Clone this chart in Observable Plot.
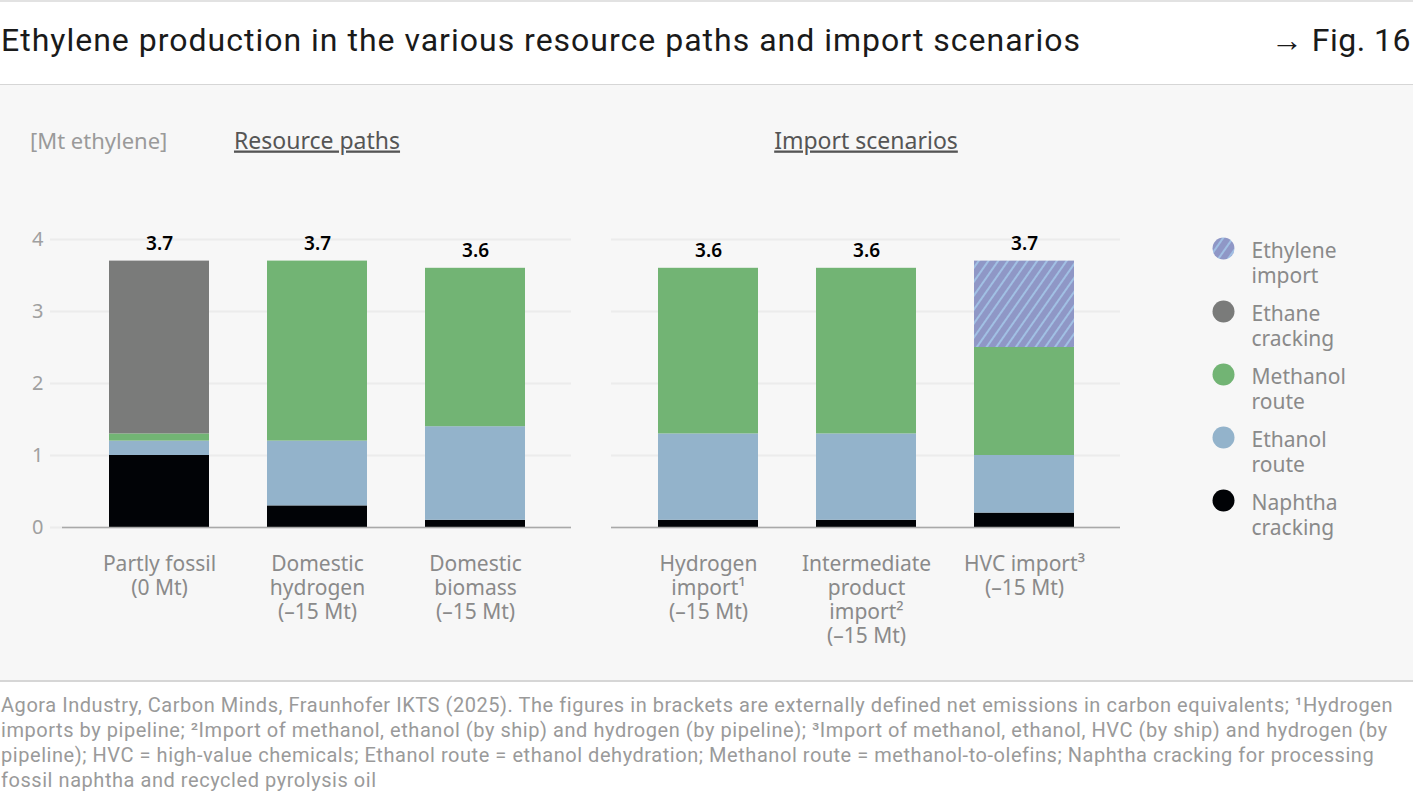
<!DOCTYPE html>
<html>
<head>
<meta charset="utf-8">
<script src="https://cdn.jsdelivr.net/npm/d3@7"></script>
<script src="https://cdn.jsdelivr.net/npm/@observablehq/plot@0.6"></script>
<style>
  html, body { margin: 0; padding: 0; background: #fff; }
  body { width: 1413px; height: 807px; overflow: hidden; font-family: "Noto Sans", sans-serif; }
  #header { position: relative; height: 82px; border-top: 2px solid #e2e2e2; border-bottom: 1px solid #d6d6d6; background: #fff; }
  #title { position: absolute; left: 1px; top: 19px; font-family: Roboto, sans-serif; font-size: 32px; letter-spacing: 1px; color: #1a1a1a; white-space: nowrap; }
  #fig { position: absolute; right: 2px; top: 19px; font-family: Roboto, sans-serif; font-size: 32px; letter-spacing: 0.5px; color: #1a1a1a; white-space: nowrap; }
  #chart { position: relative; height: 595px; background: #f7f7f7; }
  #unit { position: absolute; left: 30px; top: 40px; font-size: 22px; color: #9a9a9a; font-family: "Noto Sans", sans-serif; }
  #legend { position: absolute; left: 1200px; top: 145px; }
  #footer { border-top: 2px solid #d6d6d6; padding-top: 11px; font-family: Roboto, sans-serif; font-size: 20px; letter-spacing: 0.55px; line-height: 25px; color: #9a9a9a; white-space: nowrap; padding-left: 1px; }
</style>
</head>
<body>
<svg width="0" height="0" style="position:absolute">
  <defs>
    <pattern id="hatch" patternUnits="userSpaceOnUse" width="8" height="8" patternTransform="rotate(35)">
      <rect width="8" height="8" fill="#8f97c6"></rect>
      <line x1="4" y1="0" x2="4" y2="8" stroke="#a9d2f2" stroke-width="1.4"></line>
    </pattern>
  </defs>
</svg>
<div id="header">
  <div id="title">Ethylene production in the various resource paths and import scenarios</div>
  <div id="fig">→ Fig. 16</div>
</div>
<div id="chart">
  <div id="unit">[Mt ethylene]</div>
  <div id="plot"></div>
  <div id="legend"></div>
</div>
<div id="footer">
Agora Industry, Carbon Minds, Fraunhofer IKTS (2025). The figures in brackets are externally defined net emissions in carbon equivalents; ¹Hydrogen<br>
imports by pipeline; ²Import of methanol, ethanol (by ship) and hydrogen (by pipeline); ³Import of methanol, ethanol, HVC (by ship) and hydrogen (by<br>
pipeline); HVC = high-value chemicals; Ethanol route = ethanol dehydration; Methanol route = methanol-to-olefins; Naphtha cracking for processing<br>
fossil naphtha and recycled pyrolysis oil
</div>
<script>
// ---- data ----
const groups = ["Resource paths", "Import scenarios"];
const scenarios = ["Partly fossil", "Domestic hydrogen", "Domestic biomass", "Hydrogen import", "Intermediate product import", "HVC import"];
const scenarioGroup = ["Resource paths", "Resource paths", "Resource paths", "Import scenarios", "Import scenarios", "Import scenarios"];
const scenarioSlot = [0, 1, 2, 0, 1, 2];
const scenarioLabels = [
  "Partly fossil\n(0 Mt)",
  "Domestic\nhydrogen\n(–15 Mt)",
  "Domestic\nbiomass\n(–15 Mt)",
  "Hydrogen\nimport¹\n(–15 Mt)",
  "Intermediate\nproduct\nimport²\n(–15 Mt)",
  "HVC import³\n(–15 Mt)"
];
const types = ["Naphtha cracking", "Ethanol route", "Methanol route", "Ethane cracking", "Ethylene import"];
const naphtha        = [1.0, 0.3, 0.1, 0.1, 0.1, 0.2];
const ethanol        = [0.2, 0.9, 1.3, 1.2, 1.2, 0.8];
const methanol       = [0.1, 2.5, 2.2, 2.3, 2.3, 1.5];
const ethane         = [2.4, 0.0, 0.0, 0.0, 0.0, 0.0];
const ethyleneImport = [0.0, 0.0, 0.0, 0.0, 0.0, 1.2];
const totals = [3.7, 3.7, 3.6, 3.6, 3.6, 3.7];
const typeColors = ["#010306", "#93b3cb", "#72b474", "#7a7b7a", "url(#hatch)"];
const legendOrder = ["Ethylene import", "Ethane cracking", "Methanol route", "Ethanol route", "Naphtha cracking"];
const legendLabels = ["Ethylene\nimport", "Ethane\ncracking", "Methanol\nroute", "Ethanol\nroute", "Naphtha\ncracking"];
const yTicks = [0, 1, 2, 3, 4];

// ---- tables ----
const seriesByType = [naphtha, ethanol, methanol, ethane, ethyleneImport];
const rows = [];
scenarios.forEach((s, i) => {
  types.forEach((t, j) => {
    rows.push({scenario: s, group: scenarioGroup[i], slot: scenarioSlot[i], type: t, value: seriesByType[j][i]});
  });
});
const scenRows = scenarios.map((s, i) => ({scenario: s, group: scenarioGroup[i], slot: scenarioSlot[i], total: totals[i], label: scenarioLabels[i]}));
const gridLeft = yTicks.map(v => ({group: groups[0], v}));
const gridRight = yTicks.map(v => ({group: groups[1], v}));

const colorScale = {domain: types, range: typeColors};
const font = "Noto Sans, sans-serif";

const chart = Plot.plot({
  width: 1413,
  height: 595,
  marginTop: 154,
  marginBottom: 153,
  marginLeft: 61,
  marginRight: 292,
  style: {background: "transparent", fontFamily: font, overflow: "visible"},
  fx: {domain: groups, paddingInner: 0.0727, paddingOuter: 0, axis: null},
  x: {domain: [0, 1, 2], paddingInner: 0.37, paddingOuter: 0.29, axis: null},
  y: {domain: [0, 4], axis: null},
  color: colorScale,
  marks: [
    Plot.ruleY(gridLeft, {fx: "group", y: "v", stroke: "#ececec", strokeWidth: 2, insetLeft: -12}),
    Plot.ruleY(gridRight, {fx: "group", y: "v", stroke: "#ececec", strokeWidth: 2}),
    Plot.barY(rows, Plot.stackY({fx: "group", x: "slot", y: "value", fill: "type", z: "type", order: types})),
    Plot.ruleY([0], {stroke: "#a9a9a9", strokeWidth: 1.5}),
    Plot.axisY({ticks: yTicks, tickFormat: d3.format("d"), tickSize: 0, tickPadding: 19, fontSize: 20, color: "#a0a0a0", label: null}),
    Plot.axisFx({anchor: "top", tickSize: 0, tickPadding: 91, fontSize: 23, color: "#555", label: null}),
    Plot.text(scenRows, {fx: "group", x: "slot", y: "total", text: d => d.total.toFixed(1), dy: -17, fontSize: 19, fontWeight: 600, fill: "#000"}),
    Plot.text(scenRows, {fx: "group", x: "slot", text: "label", frameAnchor: "bottom", lineAnchor: "top", dy: 26, fontSize: 21, lineHeight: 1.143, fill: "#8a8a8a"})
  ]
});
chart.querySelectorAll('[aria-label="fx-axis tick label"] text').forEach(t => t.setAttribute("text-decoration", "underline"));
document.getElementById("plot").appendChild(chart);

const legend = Plot.plot({
  width: 213,
  height: 300,
  margin: 0,
  style: {background: "transparent", fontFamily: font, overflow: "visible"},
  y: {type: "point", domain: legendOrder, range: [18, 270], padding: 0, axis: null},
  color: colorScale,
  marks: [
    Plot.dot(legendOrder, {y: d => d, fill: d => d, r: 11, frameAnchor: "left", dx: 23}),
    Plot.text(legendOrder, {y: d => d, text: (d, i) => legendLabels[i], frameAnchor: "left", dx: 51, dy: -8, textAnchor: "start", lineAnchor: "top", fontSize: 21, lineHeight: 1.19, fill: "#8a8a8a"})
  ]
});
document.getElementById("legend").appendChild(legend);
</script>
</body>
</html>
